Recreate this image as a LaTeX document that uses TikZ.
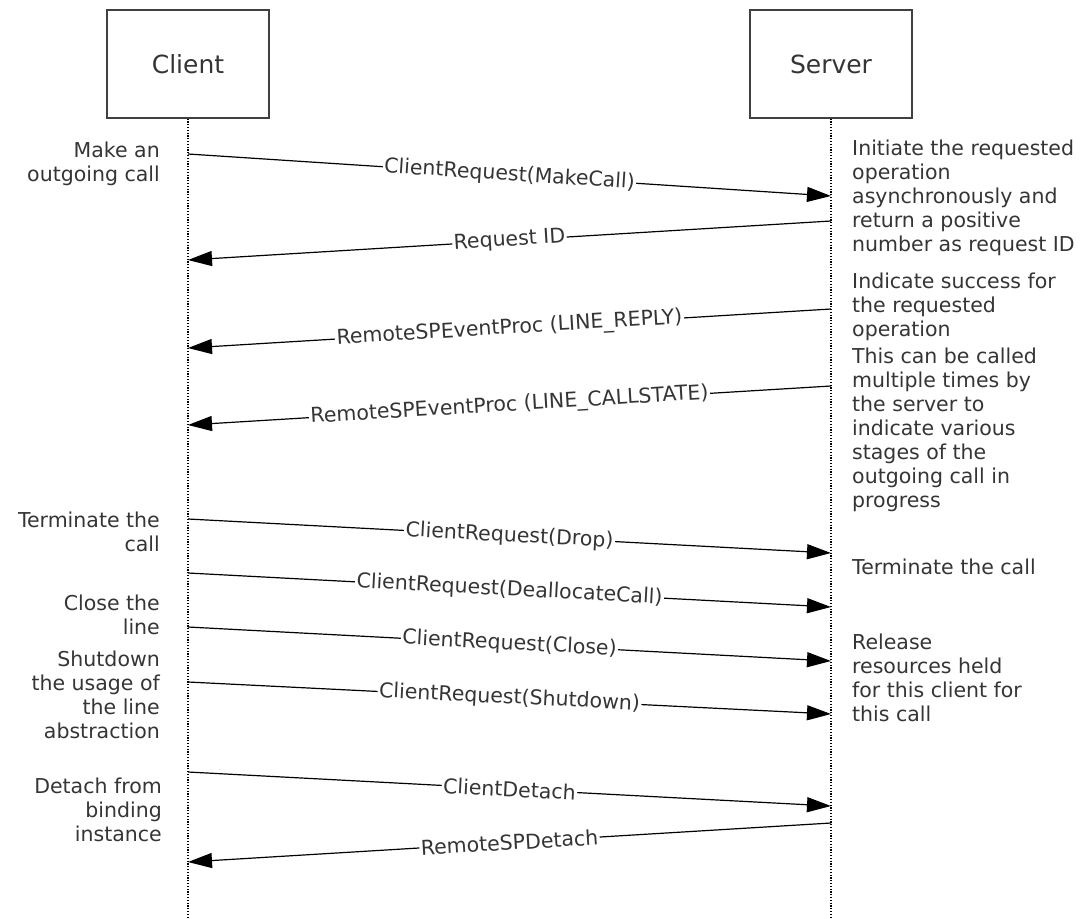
\documentclass[tikz,border=0pt]{standalone}
\usepackage{fontspec}
\setmainfont{DejaVu Sans}
\usepackage{tikz}
\usepackage{xcolor}
\usetikzlibrary{arrows.meta}
\definecolor{inkgray}{HTML}{353535}

\begin{document}
\begin{tikzpicture}[x=1pt, y=-1pt,
  actor/.style={rectangle, draw=black!75, line width=1.3pt, minimum width=162pt, minimum height=108pt, text=inkgray, font=\fontsize{25}{30}\selectfont},
  lifeline/.style={line width=1.1pt, dash pattern=on 1.2pt off 1.6pt},
  msg/.style={line width=1.2pt, -{Triangle[length=24pt, width=15pt]}},
  msglabel/.style={sloped, fill=white, inner sep=1.5pt, text=inkgray, font=\fontsize{20.5}{24}\selectfont},
  leftnote/.style={anchor=north east, align=right, inner sep=0pt, text=inkgray, font=\fontsize{20.5}{24}\selectfont},
  rightnote/.style={anchor=north west, align=left, inner sep=0pt, text=inkgray, font=\fontsize{20.5}{24}\selectfont}]
\useasboundingbox (0,0) rectangle (1081,918);

% actors and lifelines
\node[actor] (client) at (188,64) {Client};
\node[actor] (server) at (831,64) {Server};
\coordinate (clientend) at (188,918);
\coordinate (serverend) at (831,918);
\draw[lifeline] (client.south) -- (clientend);
\draw[lifeline] (server.south) -- (serverend);

% end points on the lifelines
\coordinate (c1) at (188,154);  \coordinate (s1) at (831,196);
\coordinate (s2) at (831,221);  \coordinate (c2) at (188,260);
\coordinate (s3) at (831,309);  \coordinate (c3) at (188,348);
\coordinate (s4) at (831,386);  \coordinate (c4) at (188,425);
\coordinate (c5) at (188,519);  \coordinate (s5) at (831,553);
\coordinate (c6) at (188,573);  \coordinate (s6) at (831,607);
\coordinate (c7) at (188,627);  \coordinate (s7) at (831,661);
\coordinate (c8) at (188,682);  \coordinate (s8) at (831,714);
\coordinate (c9) at (188,772);  \coordinate (s9) at (831,806);
\coordinate (s10) at (831,823); \coordinate (c10) at (188,862);

% messages
\draw[msg] (c1) -- node[msglabel] {ClientRequest(MakeCall)} (s1);
\draw[msg] (s2) -- node[msglabel] {Request ID} (c2);
\draw[msg] (s3) -- node[msglabel] {RemoteSPEventProc (LINE\_REPLY)} (c3);
\draw[msg] (s4) -- node[msglabel] {RemoteSPEventProc (LINE\_CALLSTATE)} (c4);
\draw[msg] (c5) -- node[msglabel] {ClientRequest(Drop)} (s5);
\draw[msg] (c6) -- node[msglabel] {ClientRequest(DeallocateCall)} (s6);
\draw[msg] (c7) -- node[msglabel] {ClientRequest(Close)} (s7);
\draw[msg] (c8) -- node[msglabel] {ClientRequest(Shutdown)} (s8);
\draw[msg] (c9) -- node[msglabel] {ClientDetach} (s9);
\draw[msg] (s10) -- node[msglabel] {RemoteSPDetach} (c10);

% client side notes
\node[leftnote] (nmake) at (160,141.5) {Make an\\outgoing call};
\node[leftnote] (nterm) at (160,511.5) {Terminate the\\call};
\node[leftnote] (nclose) at (160,594.5) {Close the\\line};
\node[leftnote] (nshut) at (160,650.5) {Shutdown\\the usage of\\the line\\abstraction};
\node[leftnote] (ndetach) at (162,777.5) {Detach from\\binding\\instance};

% server side notes
\node[rightnote] (ninit) at (852,139.5) {Initiate the requested\\operation\\asynchronously and\\return a positive\\number as request ID};
\node[rightnote] (nsucc) at (852,272.5) {Indicate success for\\the requested\\operation};
\node[rightnote] (nmulti) at (852,347.5) {This can be called\\multiple times by\\the server to\\indicate various\\stages of the\\outgoing call in\\progress};
\node[rightnote] (nsterm) at (852,558.5) {Terminate the call};
\node[rightnote] (nrel) at (852,633.5) {Release\\resources held\\for this client for\\this call};
\end{tikzpicture}
\end{document}
